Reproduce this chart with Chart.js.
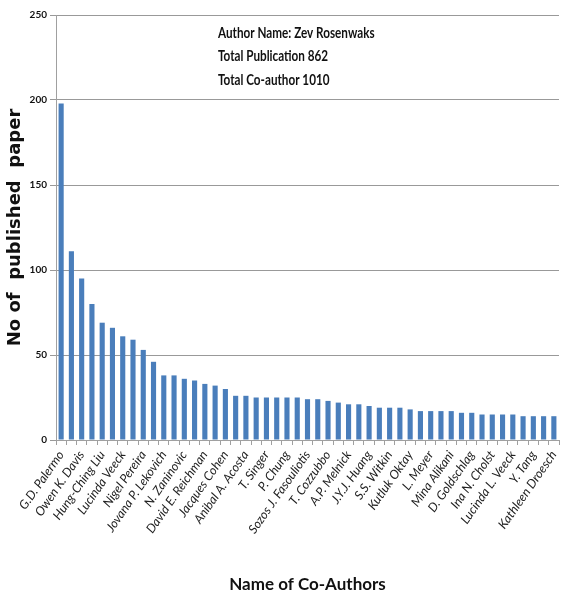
<!DOCTYPE html>
<html>
<head>
<meta charset="utf-8">
<script src="https://cdn.jsdelivr.net/npm/chart.js@4/dist/chart.umd.min.js"></script>
<style>
  html, body { margin: 0; padding: 0; background: #ffffff; }
  canvas { display: block; }
</style>
</head>
<body>
<canvas id="chart" width="564" height="596"></canvas>
<script>
// Co-authors ranked by number of joint papers (every second name is labelled)
const labelledNames = [
  'G.D. Palermo', 'Owen K. Davis', 'Hung-Ching Liu', 'Lucinda Veeck', 'Nigel Pereira',
  'Jovana P. Lekovich', 'N. Zaninovic', 'David E. Reichman', 'Jacques Cohen', 'Anibal A. Acosta',
  'T. Singer', 'P. Chung', 'Sozos J. Fasouliotis', 'T. Cozzubbo', 'A.P. Melnick',
  'J.Y.J. Huang', 'S.S. Witkin', 'Kutluk Oktay', 'L. Meyer', 'Mina Alikani',
  'D. Goldschlag', 'Ina N. Cholst', 'Lucinda L. Veeck', 'Y. Tang', 'Kathleen Droesch'
];

// Papers co-written with each of the 49 co-authors
const paperCounts = [
  198, 111, 95, 80, 69, 66, 61, 59, 53, 46,
  38, 38, 36, 35, 33, 32, 30, 26, 26, 25,
  25, 25, 25, 25, 24, 24, 23, 22, 21, 21,
  20, 19, 19, 19, 18, 17, 17, 17, 17, 16,
  16, 15, 15, 15, 15, 14, 14, 14, 14
];

const yTicks = [0, 50, 100, 150, 200, 250];

const infoLines = [
  'Author Name: Zev Rosenwaks',
  'Total Publication 862',
  'Total Co-author 1010'
];

// One category per bar; only every second one carries a name
const categories = paperCounts.map((_, i) => (i % 2 === 0 ? labelledNames[i / 2] : ''));

const narrow = "Lato, 'Open Sans', sans-serif";

// Text block in the upper part of the plot, drawn slightly condensed
const infoPlugin = {
  id: 'infoText',
  afterDraw(chart) {
    const { ctx, chartArea } = chart;
    ctx.save();
    ctx.fillStyle = '#111';
    ctx.font = "bold 15px " + narrow;
    ctx.textBaseline = 'middle';
    const x0 = chartArea.left + 162;
    const squeeze = 0.78;
    infoLines.forEach((t, i) => {
      ctx.save();
      ctx.translate(x0, chartArea.top + 18 + i * 23.5);
      ctx.scale(squeeze, 1);
      ctx.fillText(t, 0, 0);
      ctx.restore();
    });
    ctx.restore();
  }
};

new Chart(document.getElementById('chart'), {
  type: 'bar',
  data: {
    labels: categories,
    datasets: [{
      data: paperCounts,
      backgroundColor: '#4a7ebb',
      borderWidth: 0,
      barPercentage: 0.5,
      categoryPercentage: 1.0
    }]
  },
  options: {
    responsive: false,
    animation: false,
    devicePixelRatio: 1,
    layout: { padding: { left: 5, right: 5, top: 15, bottom: 1 } },
    plugins: {
      legend: { display: false },
      tooltip: { enabled: false }
    },
    scales: {
      x: {
        offset: true,
        afterFit(scale) {
          scale.height = 155;
          scale.paddingLeft = 0;
          scale.paddingRight = 0;
        },
        grid: {
          offset: true,
          drawOnChartArea: false,
          drawTicks: true,
          tickLength: 5,
          color: '#a0a0a0'
        },
        border: { color: '#a0a0a0' },
        ticks: {
          autoSkip: false,
          minRotation: 55,
          maxRotation: 55,
          color: '#222',
          padding: 3,
          font: { family: narrow, size: 12.5, style: 'italic' }
        },
        title: {
          display: true,
          text: 'Name of Co-Authors',
          color: '#111',
          padding: { top: 4, bottom: 0 },
          font: { family: narrow, size: 17, weight: 'bold' }
        }
      },
      y: {
        min: 0,
        max: 250,
        afterBuildTicks(scale) {
          scale.ticks = yTicks.map(v => ({ value: v }));
        },
        grid: {
          color: '#999999',
          tickLength: 6
        },
        border: { color: '#a0a0a0' },
        ticks: {
          color: '#111',
          padding: 3,
          font: { family: narrow, size: 10, weight: 'bold' }
        },
        title: {
          display: true,
          text: 'No of  published  paper',
          color: '#111',
          padding: { top: 0, bottom: 0 },
          font: { family: "'DejaVu Sans', sans-serif", size: 18, weight: 'bold' }
        }
      }
    }
  },
  plugins: [infoPlugin]
});
</script>
</body>
</html>
